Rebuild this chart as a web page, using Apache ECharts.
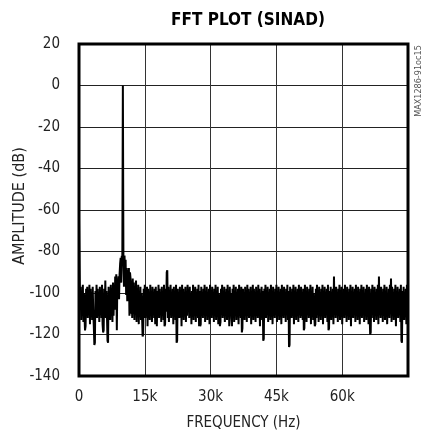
<!DOCTYPE html>
<html>
<head>
<meta charset="utf-8">
<script src="https://cdn.jsdelivr.net/npm/echarts@6/dist/echarts.min.js"></script>
<style>
html,body{margin:0;padding:0;background:#fff;}
#c{width:425px;height:433px;}
</style>
</head>
<body>
<div id="c"></div>
<script>
var titleText = "FFT PLOT (SINAD)";
var xAxisName = "FREQUENCY (Hz)";
var yAxisName = "AMPLITUDE (dB)";
var sideNote = "MAX1286-91oc15";
var xTickLabels = {0: "0", 15000: "15k", 30000: "30k", 45000: "45k", 60000: "60k"};
var binStepHz = 125;
var amplitudeDb = [
  -64,-88,-107,-97,-113,-99,-110,-96,-114,-100,-111,-118,-116,-98,-109,-97,-112,-99,-108,-96,
  -115,-98,-110,-100,-113,-97,-109,-116,-125,-124,-99,-111,-96,-112,-98,-108,-100,-114,-97,-110,
  -99,-112,-96,-115,-119,-118,-98,-109,-94,-112,-99,-111,-123,-124,-97,-110,-100,-113,-96,-108,
  -98,-114,-95,-111,-99,-108,-92,-101,-91,-118,-93,-100,-92,-103,-91,-86,-83,-95,-82,-84,
  0,-83,-97,-82,-90,-84,-101,-88,-104,-89,-102,-88,-111,-90,-93,-110,-94,-112,-93,-110,
  -95,-113,-97,-108,-94,-114,-98,-110,-96,-115,-99,-109,-97,-113,-100,-111,-121,-120,-98,-108,
  -96,-112,-99,-110,-97,-116,-98,-109,-100,-113,-96,-111,-99,-114,-97,-108,-100,-112,-98,-115,
  -97,-109,-116,-99,-111,-96,-112,-98,-108,-100,-114,-97,-110,-99,-113,-96,-116,-115,-98,-109,
  -90,-89,-112,-97,-114,-99,-108,-96,-112,-100,-110,-98,-115,-97,-109,-99,-113,-96,-124,-123,
  -98,-111,-100,-112,-97,-108,-99,-116,-96,-110,-98,-113,-100,-109,-97,-114,-99,-111,-96,-108,
  -98,-112,-97,-110,-100,-115,-99,-109,-96,-113,-98,-111,-97,-114,-100,-108,-98,-112,-96,-116,
  -99,-116,-115,-97,-110,-100,-112,-98,-108,-96,-114,-99,-111,-97,-113,-100,-109,-98,-115,-96,
  -110,-99,-112,-97,-108,-100,-114,-98,-111,-96,-113,-99,-109,-97,-115,-100,-110,-116,-114,-98,
  -108,-96,-112,-99,-111,-97,-114,-100,-109,-98,-113,-96,-110,-99,-116,-97,-108,-100,-112,-116,
  -98,-110,-96,-114,-99,-109,-97,-113,-100,-111,-98,-115,-96,-108,-99,-112,-97,-119,-117,-98,
  -110,-100,-113,-97,-108,-99,-114,-96,-111,-98,-112,-100,-109,-97,-115,-99,-110,-96,-113,-98,
  -108,-100,-114,-97,-111,-99,-112,-96,-109,-98,-116,-100,-110,-97,-113,-99,-123,-122,-98,-111,
  -96,-112,-99,-108,-97,-114,-100,-110,-98,-113,-96,-109,-99,-115,-97,-111,-100,-112,-98,-108,
  -96,-114,-99,-110,-97,-113,-100,-109,-98,-115,-96,-111,-99,-112,-97,-108,-100,-114,-98,-110,
  -96,-113,-99,-126,-125,-97,-109,-100,-112,-98,-111,-96,-115,-99,-108,-97,-113,-100,-110,-98,
  -114,-96,-109,-99,-112,-97,-111,-100,-113,-98,-118,-117,-96,-110,-99,-114,-97,-108,-100,-112,
  -98,-111,-96,-115,-99,-109,-97,-113,-100,-110,-116,-115,-98,-112,-96,-108,-99,-114,-97,-111,
  -100,-113,-98,-109,-96,-115,-99,-110,-97,-112,-100,-108,-98,-114,-96,-118,-117,-99,-111,-97,
  -113,-100,-109,-98,-115,-92,-110,-99,-112,-97,-108,-100,-114,-98,-111,-96,-113,-99,-109,-97,
  -115,-100,-110,-98,-112,-96,-108,-99,-114,-97,-111,-100,-113,-98,-109,-96,-116,-99,-110,-97,
  -112,-100,-108,-98,-114,-96,-111,-99,-113,-97,-109,-100,-115,-98,-110,-96,-112,-99,-108,-97,
  -114,-100,-111,-98,-113,-96,-109,-99,-115,-97,-110,-120,-119,-98,-112,-96,-108,-99,-114,-97,
  -111,-100,-113,-98,-109,-96,-115,-92,-110,-99,-112,-97,-108,-100,-114,-98,-111,-96,-113,-99,
  -109,-97,-115,-100,-110,-98,-112,-96,-108,-93,-114,-97,-111,-100,-113,-98,-109,-96,-116,-99,
  -110,-97,-112,-100,-108,-98,-114,-96,-123,-124,-99,-111,-97,-113,-100,-109,-98,-115,-96,-110,
  -99
];

var seriesData = amplitudeDb.map(function (v, i) { return [i * binStepHz, v]; });

var FONT = "'Liberation Sans Narrow', 'DejaVu Sans Condensed', 'Liberation Sans', sans-serif";
var chart = echarts.init(document.getElementById('c'), null, {renderer: 'canvas'});
chart.setOption({
  animation: false,
  backgroundColor: '#fff',
  title: {
    text: titleText,
    left: 243, textAlign: 'center', top: 7,
    textStyle: {fontFamily: FONT, fontWeight: 'bold', fontSize: 17, color: '#000'}
  },
  grid: {
    left: 79, right: 17, top: 44, bottom: 57,
    outerBoundsMode: 'none', containLabel: false,
    show: true, borderColor: '#000', borderWidth: 3, backgroundColor: 'transparent', z: 10
  },
  xAxis: {
    type: 'value', min: 0, max: 75000, interval: 15000,
    name: xAxisName, nameLocation: 'middle', nameGap: 40,
    nameTextStyle: {fontFamily: FONT, fontSize: 15, color: '#222'},
    axisLine: {show: false}, axisTick: {show: false},
    axisLabel: {
      margin: 14, fontFamily: FONT, fontSize: 15, color: '#222',
      showMaxLabel: false,
      formatter: function (v) { return xTickLabels[v] !== undefined ? xTickLabels[v] : ''; }
    },
    splitLine: {show: true, lineStyle: {color: '#333', width: 1}}
  },
  yAxis: {
    type: 'value', min: -140, max: 20, interval: 20,
    axisLine: {show: false}, axisTick: {show: false},
    axisLabel: {margin: 19, fontFamily: FONT, fontSize: 15, color: '#222'},
    splitLine: {show: true, lineStyle: {color: '#222', width: 1}}
  },
  graphic: [{
    type: 'text', x: 20, y: 206, rotation: Math.PI / 2,
    style: {text: yAxisName, fontFamily: FONT, fontSize: 16, fill: '#222', align: 'center', verticalAlign: 'middle'}
  }, {
    type: 'text', x: 419, y: 81, rotation: Math.PI / 2,
    style: {text: sideNote, fontFamily: FONT, fontSize: 9, fill: '#555', align: 'center', verticalAlign: 'middle'}
  }],
  series: [{
    type: 'line', data: seriesData, showSymbol: false, symbol: 'none',
    sampling: null, clip: true,
    lineStyle: {color: '#000', width: 2}
  }]
});
</script>
</body>
</html>
